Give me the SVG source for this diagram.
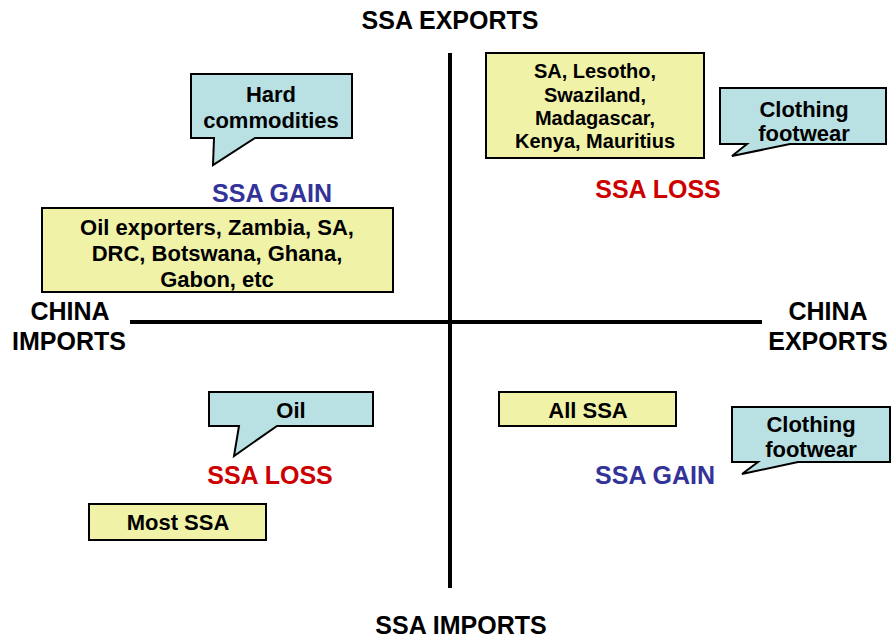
<svg xmlns="http://www.w3.org/2000/svg" width="891" height="638" viewBox="0 0 891 638">
<style>
text{font-family:"Liberation Sans",Arial,sans-serif;font-weight:bold;text-anchor:middle}
.lbl{font-size:25px;fill:#000}
.box{fill:#f0f2a8;stroke:#000;stroke-width:2}
.call{fill:#b9e1e3;stroke:#000;stroke-width:2;stroke-linejoin:miter}
.t{font-size:22px;fill:#000}
.ts{font-size:20px;fill:#000}
.loss{font-size:25px;fill:#cc0000}
.gain{font-size:25px;fill:#333399}
.axis{stroke:#000;stroke-width:4;fill:none}
</style>
<rect width="891" height="638" fill="#fff"/>
<g id="connectors">
<line class="axis" x1="130" y1="322" x2="762" y2="322"/>
<line class="axis" x1="450" y1="53" x2="450" y2="588"/>
</g>
<g id="axis-labels">
<text class="lbl" x="450" y="29">SSA EXPORTS</text>
<text class="lbl" x="461" y="634">SSA IMPORTS</text>
<text class="lbl" x="70" y="320">CHINA</text>
<text class="lbl" x="69" y="350">IMPORTS</text>
<text class="lbl" x="828" y="320">CHINA</text>
<text class="lbl" x="828" y="350">EXPORTS</text>
</g>
<g id="hard-commodities">
<path class="call" d="M191,74 H352 V138 H255 L213,165 L214,138 H191 Z"/>
<text class="t" x="271" y="102">Hard</text>
<text class="t" x="271" y="128">commodities</text>
</g>
<g id="ssa-gain-tl"><text class="gain" x="272" y="202">SSA GAIN</text></g>
<g id="oil-exporters">
<rect class="box" x="42" y="208" width="351" height="84"/>
<text class="t" x="217" y="235">Oil exporters, Zambia, SA,</text>
<text class="t" x="217" y="261">DRC, Botswana, Ghana,</text>
<text class="t" x="217" y="287">Gabon, etc</text>
</g>
<g id="sa-lesotho">
<rect class="box" x="486" y="53" width="218" height="105"/>
<text class="ts" x="595" y="78">SA, Lesotho,</text>
<text class="ts" x="595" y="102">Swaziland,</text>
<text class="ts" x="595" y="125">Madagascar,</text>
<text class="ts" x="595" y="148">Kenya, Mauritius</text>
</g>
<g id="clothing-top">
<path class="call" d="M720,88 H886 V144 H790 L732,156 L747,144 H720 Z"/>
<text class="t" x="804" y="117">Clothing</text>
<text class="t" x="804" y="141">footwear</text>
</g>
<g id="ssa-loss-tr"><text class="loss" x="658" y="198">SSA LOSS</text></g>
<g id="oil">
<path class="call" d="M209,392 H373 V426 H277 L234,456 L239,426 H209 Z"/>
<text class="t" x="291" y="418">Oil</text>
</g>
<g id="ssa-loss-bl"><text class="loss" x="270" y="484">SSA LOSS</text></g>
<g id="most-ssa">
<rect class="box" x="89" y="504" width="177" height="36"/>
<text class="t" x="178" y="530">Most SSA</text>
</g>
<g id="all-ssa">
<rect class="box" x="499" y="392" width="177" height="34"/>
<text class="t" x="588" y="418">All SSA</text>
</g>
<g id="clothing-bottom">
<path class="call" d="M732,407 H890 V462 H798 L742,474 L758,462 H732 Z"/>
<text class="t" x="811" y="432">Clothing</text>
<text class="t" x="811" y="457">footwear</text>
</g>
<g id="ssa-gain-br"><text class="gain" x="655" y="484">SSA GAIN</text></g>
</svg>
